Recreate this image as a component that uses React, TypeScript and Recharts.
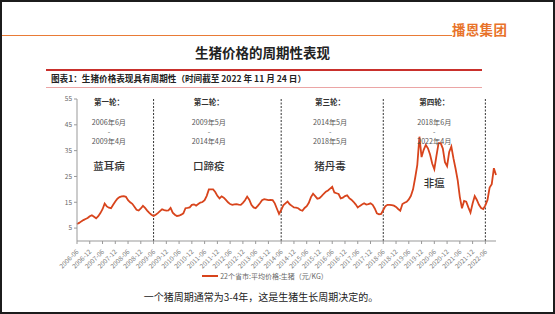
import React from "react";
import { LineChart, Line, XAxis, YAxis, ReferenceLine, ReferenceDot, Legend } from "recharts";

// Monthly average hog price (元/KG), 2006-06 .. 2022-11
const pricesCycle1 = [6.6, 7.0, 7.6, 8.1, 8.5, 8.9, 9.6, 10.0, 9.4, 8.8, 9.6, 10.8, 12.3, 14.5, 13.4, 12.9, 12.7, 14.0, 15.3, 16.4, 17.0, 17.3, 17.4, 17.1, 15.8, 15.0, 14.4, 13.3, 12.1, 11.8, 12.6, 13.6, 12.8, 11.8, 10.9, 10.2, 9.7];
const pricesCycle2 = [10.2, 10.8, 11.6, 12.3, 12.0, 11.8, 11.9, 12.8, 11.0, 10.2, 9.7, 9.8, 10.2, 10.7, 12.7, 12.8, 13.0, 14.0, 14.2, 13.7, 14.3, 14.9, 15.1, 15.8, 17.5, 20.0, 20.0, 20.0, 19.0, 17.5, 16.5, 17.3, 16.8, 15.9, 15.0, 14.3, 14.0, 14.2, 14.3, 14.1, 14.0, 14.8, 15.8, 17.2, 16.0, 14.0, 13.0, 12.7, 13.6, 14.6, 15.8, 16.2, 16.0, 15.8, 15.9, 15.8, 14.6, 12.5, 10.5];
const pricesCycle3 = [12.0, 13.8, 14.6, 15.3, 14.2, 13.6, 13.0, 12.9, 12.7, 12.0, 11.7, 12.8, 13.5, 14.8, 17.0, 18.3, 17.4, 16.4, 16.6, 17.4, 18.3, 19.1, 19.6, 20.3, 21.0, 18.8, 18.5, 18.2, 16.5, 16.8, 17.4, 17.7, 16.6, 16.0, 15.2, 14.2, 13.0, 13.6, 14.1, 14.6, 14.1, 14.3, 14.6, 14.0, 12.6, 10.7, 10.3, 10.5];
const pricesCycle4 = [12.0, 13.5, 14.0, 14.0, 13.9, 13.7, 13.2, 12.4, 11.7, 14.3, 14.8, 15.2, 16.1, 17.5, 20.0, 24.5, 29.5, 40.4, 32.5, 35.3, 37.2, 35.9, 33.5, 30.0, 27.8, 33.0, 37.9, 37.9, 35.8, 30.5, 29.0, 34.5, 36.6, 32.0, 28.0, 23.5, 17.0, 12.7, 15.5, 15.2, 13.0, 11.0, 14.5, 17.4, 15.9, 14.0, 12.8, 12.4, 13.8, 15.9, 20.7, 22.0, 28.2, 25.6];

const START_YEAR = 2006;
const START_MONTH = 6;
const yTicks = [5, 15, 25, 35, 45, 55];
const cycleBoundaries = ["2009-06", "2014-06", "2018-06", "2022-06"];
const seriesName = "22个省市:平均价格:生猪（元/KG）";

const cycles = [
  { title: "第一轮：", from: "2006年6月", to: "2009年4月", cause: "蓝耳病", at: "2007-09", causeDy: 64 },
  { title: "第二轮：", from: "2009年5月", to: "2014年4月", cause: "口蹄疫", at: "2011-08", causeDy: 64 },
  { title: "第三轮：", from: "2014年5月", to: "2018年5月", cause: "猪丹毒", at: "2016-05", causeDy: 64 },
  { title: "第四轮：", from: "2018年6月", to: "2022年4月", cause: "非瘟", at: "2020-06", causeDy: 81 },
];

const allPrices = [...pricesCycle1, ...pricesCycle2, ...pricesCycle3, ...pricesCycle4];
const months = allPrices.map((_, i) => {
  const t = START_MONTH - 1 + i;
  return `${START_YEAR + Math.floor(t / 12)}-${String((t % 12) + 1).padStart(2, "0")}`;
});
const data = months.map((m, i) => ({ month: m, price: allPrices[i] }));

const CJK = '"Noto Sans CJK SC", "Noto Sans", sans-serif';

const XTick = (props: any) => {
  const { x, y, payload } = props;
  return (
    <text
      x={x}
      y={y + 4}
      transform={`rotate(-45 ${x} ${y + 4})`}
      textAnchor="end"
      dominantBaseline="central"
      fontSize={6.5}
      fill="#7a7a7a"
      fontFamily={CJK}
    >
      {payload.value}
    </text>
  );
};

const CycleNote = (props: any) => {
  const { cx, cy, c } = props;
  return (
    <g fontFamily={CJK} textAnchor="middle" dominantBaseline="central">
      <text x={cx} y={cy} fontSize={7.5} fontWeight={700} fill="#333">{c.title}</text>
      <text x={cx} y={cy + 20} fontSize={7.2} fill="#555">{c.from}</text>
      <text x={cx} y={cy + 29.5} fontSize={7} fill="#555">-</text>
      <text x={cx} y={cy + 39.5} fontSize={7.2} fill="#555">{c.to}</text>
      <text x={cx} y={cy + c.causeDy} fontSize={10.5} fontWeight={500} fill="#333">{c.cause}</text>
    </g>
  );
};

const LegendContent = () => (
  <div style={{ display: "flex", alignItems: "center", justifyContent: "center", fontFamily: CJK, fontSize: 7, color: "#666" }}>
    <span style={{ display: "inline-block", width: 16, height: 2, background: "#D8441C", marginRight: 2 }} />
    <span>{seriesName}</span>
  </div>
);

export default function App() {
  return (
    <div
      style={{
        position: "absolute",
        left: 0,
        top: 0,
        width: 555,
        height: 314,
        boxSizing: "border-box",
        border: "2px solid #1c1c1c",
        background: "#fff",
        overflow: "hidden",
        fontFamily: CJK,
      }}
    >
      <div style={{ position: "absolute", left: -2, top: 32.5, width: 452, height: 1.5, background: "#E97B36" }} />
      <div style={{ position: "absolute", left: 450, top: 19, fontSize: 13.5, fontWeight: 700, color: "#E8732A", lineHeight: "16px", letterSpacing: 0.3 }}>播恩集团</div>
      <div style={{ position: "absolute", left: -2, width: 525, top: 41, textAlign: "center", fontSize: 13.5, fontWeight: 700, color: "#222", lineHeight: "18px" }}>生猪价格的周期性表现</div>
      <div style={{ position: "absolute", left: 44, top: 67, width: 436, height: 2, background: "#C9302C" }} />
      <div style={{ position: "absolute", left: 49, top: 70, fontSize: 8.6, fontWeight: 700, color: "#222", lineHeight: "12px", whiteSpace: "nowrap" }}>图表1：生猪价格表现具有周期性（时间截至 2022 年 11 月 24 日）</div>
      <div style={{ position: "absolute", left: 44, top: 85, width: 436, height: 1, background: "#EBA5A5" }} />

      <div style={{ position: "absolute", left: -2, top: -2 }}>
        <LineChart
          width={555}
          height={314}
          data={data}
          margin={{ top: 99, right: 59, bottom: 33, left: 47 }}
        >
          <XAxis
            dataKey="month"
            scale="point"
            interval={5}
            tickSize={3}
            height={40}
            axisLine={{ stroke: "#999" }}
            tickLine={{ stroke: "#999" }}
            tick={<XTick />}
          />
          <YAxis
            domain={[0, 55]}
            ticks={yTicks}
            width={30}
            tickSize={3}
            axisLine={{ stroke: "#999" }}
            tickLine={{ stroke: "#999" }}
            tick={{ fontSize: 6.5, fill: "#666", fontFamily: CJK }}
          />
          {cycleBoundaries.map((m) => (
            <ReferenceLine key={m} x={m} stroke="#333" strokeWidth={1} strokeDasharray="2 1.5" />
          ))}
          {cycles.map((c) => (
            <ReferenceDot
              key={c.title}
              x={c.at}
              y={54}
              r={0}
              shape={(p: any) => <CycleNote cx={p.cx} cy={p.cy} c={c} />}
            />
          ))}
          <Line
            type="linear"
            dataKey="price"
            name={seriesName}
            stroke="#D8441C"
            strokeWidth={1.8}
            dot={false}
            isAnimationActive={false}
          />
          <Legend
            verticalAlign="middle"
            align="center"
            layout="horizontal"
            content={<LegendContent />}
            wrapperStyle={{ top: 271, left: 146, width: 238 }}
          />
        </LineChart>
      </div>

      <div style={{ position: "absolute", left: -2, width: 522, top: 288, textAlign: "center", fontSize: 10, color: "#222", lineHeight: "14px" }}>一个猪周期通常为3-4年，这是生猪生长周期决定的。</div>
    </div>
  );
}
